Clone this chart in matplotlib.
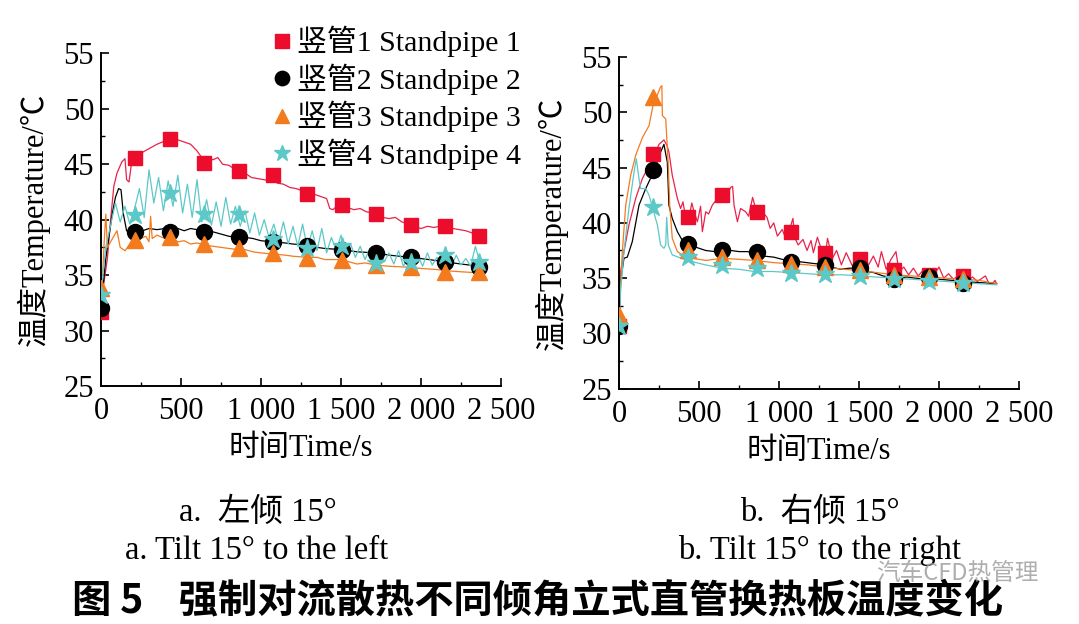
import matplotlib
matplotlib.use("Agg")
import matplotlib.pyplot as plt
from matplotlib.lines import Line2D
from matplotlib.ticker import MultipleLocator, FixedLocator

plt.rcParams['font.family'] = ['Liberation Serif', 'Noto Sans CJK SC', 'DejaVu Sans']
plt.rcParams['mathtext.fontset'] = 'stix'

# ---------------- data: left panel (a. tilt 15° to the left) ----------------
a_red_t = [0, 10, 25, 40, 60, 80, 100, 130, 150, 160, 175, 190, 215, 250, 300, 350, 400, 440,
           480, 520, 560, 600, 630, 650, 680, 700, 730, 760, 800, 830, 860, 900, 940, 980,
           1020, 1050, 1075, 1100, 1140, 1180, 1220, 1260, 1290, 1330, 1370, 1410, 1430,
           1450, 1480, 1505, 1540, 1580, 1620, 1660, 1700, 1720, 1760, 1800, 1840, 1880,
           1920, 1960, 2000, 2040, 2080, 2120, 2160, 2200, 2240, 2280, 2320, 2360, 2400]
a_red_v = [31.7, 33.5, 35.0, 36.5, 40.0, 43.0, 44.2, 45.2, 45.5, 43.6, 43.4, 45.0, 45.6, 46.0,
           46.4, 46.8, 47.1, 47.3, 47.2, 47.0, 46.8, 46.2, 45.6, 45.1, 45.5, 45.4, 45.6,
           45.0, 44.9, 44.6, 44.4, 44.2, 43.8, 43.7, 43.6, 43.5, 44.0, 43.3, 43.2, 42.9,
           42.8, 42.6, 42.3, 42.3, 42.1, 41.9, 41.0, 40.9, 41.3, 41.3, 41.1, 40.9, 41.0,
           40.7, 40.6, 40.5, 40.2, 40.1, 40.2, 39.8, 39.6, 39.4, 39.2, 39.4, 39.3, 39.4,
           39.4, 39.2, 39.1, 39.0, 38.8, 38.5, 38.5]

a_blk_t = [0, 10, 30, 50, 70, 90, 110, 125, 140, 160, 180, 215, 260, 300, 350, 400, 440, 480,
           520, 560, 600, 650, 700, 750, 800, 860, 900, 950, 1000, 1075, 1150, 1200, 1290,
           1350, 1400, 1505, 1600, 1720, 1800, 1935, 2050, 2150, 2250, 2365, 2400]
a_blk_v = [32.0, 33.5, 36.5, 38.5, 40.5, 42.0, 42.8, 42.7, 40.5, 39.0, 38.8, 38.85, 39.0,
           39.2, 39.1, 39.2, 39.0, 39.2, 39.0, 39.2, 39.1, 38.9, 38.9, 38.7, 38.5, 38.4,
           38.4, 38.3, 38.1, 38.0, 37.9, 37.8, 37.7, 37.5, 37.4, 37.3, 37.1, 37.0, 36.8,
           36.6, 36.4, 36.2, 36.0, 35.8, 35.8]

a_org_t = [0, 10, 20, 30, 40, 60, 80, 100, 120, 150, 180, 215, 250, 280, 300, 310, 320, 350,
           400, 440, 480, 520, 560, 600, 650, 700, 750, 800, 860, 900, 950, 1000, 1075,
           1150, 1200, 1290, 1350, 1400, 1505, 1550, 1600, 1650, 1720, 1800, 1935, 2000,
           2100, 2150, 2250, 2365, 2400]
a_org_v = [33.8, 35.0, 38.0, 40.5, 37.5, 38.0, 38.5, 39.0, 37.5, 37.2, 37.8, 38.0, 38.3,
           38.5, 38.0, 40.3, 38.3, 38.6, 38.3, 38.4, 38.0, 38.1, 37.8, 37.9, 37.7, 37.6,
           37.5, 37.4, 37.3, 37.3, 37.1, 37.0, 36.9, 36.8, 36.7, 36.6, 36.6, 36.4, 36.4,
           36.2, 36.0, 36.1, 35.9, 35.8, 35.7, 35.6, 35.5, 35.4, 35.3, 35.2, 35.3]

a_cyn_t = [0, 15, 30, 60, 90, 120, 150, 180, 210, 240, 270, 300, 330, 360, 390, 420, 450,
           480, 510, 540, 570, 600, 630, 660, 690, 720, 750, 780, 810, 840, 870, 900, 930,
           960, 990, 1020, 1050, 1080, 1110, 1140, 1170, 1200, 1230, 1260, 1290, 1320,
           1350, 1380, 1410, 1440, 1470, 1500, 1530, 1560, 1590, 1620, 1650, 1680, 1710,
           1740, 1770, 1800, 1830, 1860, 1890, 1920, 1950, 1980, 2010, 2040, 2070, 2100,
           2130, 2160, 2190, 2220, 2250, 2280, 2310, 2340, 2370, 2400]
a_cyn_v = [33.2, 35.5, 37.5, 39.5, 41.5, 39.8, 41.2, 39.6, 41.0, 42.8, 40.2, 44.5, 41.5,
           43.8, 40.8, 43.5, 41.2, 44.0, 40.6, 43.2, 40.2, 43.6, 39.8, 41.8, 39.5, 41.6,
           39.4, 42.0, 39.6, 41.2, 39.4, 40.8, 38.8, 40.6, 38.6, 40.0, 38.4, 39.6, 38.0,
           39.8, 37.8, 39.4, 37.6, 39.6, 37.4, 39.0, 37.2, 39.2, 37.0, 38.4, 37.2, 38.6,
           37.0, 37.8, 36.6, 37.6, 36.4, 37.4, 36.0, 37.2, 36.2, 37.0, 36.0, 37.2, 35.8,
           36.6, 35.8, 36.8, 35.8, 37.0, 35.9, 36.6, 35.8, 37.0, 35.8, 36.8, 35.9, 36.5,
           35.8, 37.6, 36.0, 36.4]

a_mk_t = [0, 215, 430, 645, 860, 1075, 1290, 1505, 1720, 1935, 2150, 2365]
a_red_mk = [31.7, 45.6, 47.3, 45.1, 44.4, 44.0, 42.3, 41.3, 40.5, 39.5, 39.4, 38.5]
a_blk_mk = [32.0, 38.85, 38.9, 38.85, 38.4, 38.0, 37.6, 37.3, 37.0, 36.6, 36.2, 35.7]
a_org_mk = [33.8, 38.2, 38.4, 37.8, 37.4, 37.0, 36.5, 36.4, 35.9, 35.7, 35.3, 35.25]
a_cyn_mk = [33.2, 40.4, 42.4, 40.5, 40.5, 38.3, 37.4, 37.6, 36.1, 36.2, 36.8, 36.2]

# ---------------- data: right panel (b. tilt 15° to the right) ----------------
b_red_t = [0, 10, 31, 62, 104, 146, 188, 219, 250, 281, 300, 312, 333, 365, 385, 400, 417,
           437, 455, 469, 490, 510, 521, 542, 560, 583, 615, 640, 656, 680, 698, 710, 719,
           740, 760, 792, 810, 835, 860, 890, 925, 945, 967, 990, 1020, 1045, 1062, 1087,
           1100, 1120, 1150, 1175, 1200, 1215, 1240, 1271, 1290, 1303, 1334, 1360, 1390,
           1420, 1459, 1490, 1525, 1560, 1590, 1620, 1640, 1670, 1700, 1731, 1750, 1780,
           1810, 1840, 1870, 1900, 1930, 1960, 2000, 2030, 2060, 2090, 2120, 2150, 2180,
           2210, 2240, 2270, 2290, 2310, 2335, 2350, 2360]
b_red_v = [30.7, 35.6, 37.4, 39.8, 42.2, 44.0, 45.2, 46.0, 47.1, 47.5, 47.0, 46.4, 44.3,
           42.2, 41.3, 41.9, 40.4, 40.4, 41.8, 41.0, 40.1, 41.5, 39.2, 41.0, 40.8, 41.6,
           42.2, 42.6, 42.6, 42.7, 43.2, 43.3, 41.6, 40.1, 41.3, 41.0, 40.6, 42.3, 41.0,
           41.1, 40.5, 39.5, 40.0, 38.8, 39.4, 38.5, 39.2, 40.4, 38.6, 38.0, 38.5, 37.5,
           38.4, 37.3, 38.7, 37.3, 37.0, 38.6, 36.8, 37.5, 36.2, 37.3, 36.1, 36.9, 36.8,
           36.2, 37.0, 36.0, 37.4, 35.8, 36.7, 37.4, 35.6, 36.0, 35.3, 35.9, 35.2, 35.7,
           35.4, 35.1, 36.0, 35.0, 35.4, 34.9, 35.2, 35.3, 34.8, 35.1, 34.7, 35.0, 35.2,
           34.6, 34.5, 34.8, 34.5]

b_blk_t = [0, 10, 31, 52, 83, 125, 167, 219, 260, 281, 295, 302, 312, 333, 365, 396, 430,
           480, 542, 600, 646, 700, 750, 800, 850, 900, 967, 1020, 1069, 1120, 1175, 1230,
           1283, 1330, 1384, 1440, 1498, 1550, 1592, 1650, 1717, 1800, 1850, 1935, 2000,
           2080, 2150, 2250, 2360]
b_blk_v = [30.7, 34.7, 36.8, 36.9, 38.3, 41.6, 43.1, 44.7, 46.4, 47.1, 46.0, 45.5, 41.6,
           40.4, 39.2, 38.4, 38.0, 37.8, 37.5, 37.4, 37.3, 37.5, 37.4, 37.4, 37.3, 37.0,
           36.9, 36.7, 36.6, 36.5, 36.4, 36.3, 36.3, 36.0, 35.8, 35.9, 35.9, 35.6, 35.5,
           35.2, 35.0, 35.1, 35.0, 34.9, 34.9, 34.8, 34.7, 34.6, 34.5]

b_org_t = [0, 21, 42, 73, 104, 146, 188, 215, 229, 260, 268, 271, 292, 308, 317, 333, 365,
           417, 542, 645, 750, 854, 967, 1075, 1180, 1290, 1400, 1505, 1610, 1720, 1830,
           1935, 2040, 2150, 2250, 2360]
b_org_v = [31.7, 37.4, 41.6, 44.3, 46.1, 47.7, 48.8, 50.8, 51.2, 52.3, 52.4, 49.7, 49.4,
           45.2, 41.6, 38.6, 37.4, 36.9, 36.6, 36.8, 36.7, 36.6, 36.4, 36.3, 36.2, 36.0,
           35.8, 35.7, 35.5, 35.3, 35.2, 35.1, 35.0, 34.9, 34.8, 34.5]

b_cyn_t = [0, 10, 31, 62, 94, 108, 125, 135, 167, 188, 215, 240, 260, 281, 292, 298, 308,
           333, 427, 540, 646, 750, 844, 960, 1075, 1180, 1290, 1400, 1505, 1610, 1720,
           1830, 1935, 2040, 2150, 2250, 2360]
b_cyn_v = [30.7, 33.8, 37.4, 41.3, 44.6, 45.8, 44.0, 43.1, 43.1, 42.5, 41.1, 39.8, 38.0,
           37.7, 38.0, 40.5, 38.0, 37.1, 36.6, 36.2, 35.9, 35.8, 35.6, 35.6, 35.5, 35.4,
           35.3, 35.3, 35.2, 35.1, 35.0, 34.9, 34.8, 34.7, 34.6, 34.5, 34.4]

b_mk_t = [0, 215, 430, 645, 860, 1075, 1290, 1505, 1720, 1935, 2150]
b_red_mk = [30.7, 46.2, 40.5, 42.5, 41.0, 39.2, 37.3, 36.7, 35.7, 35.3, 35.2]
b_blk_mk = [30.7, 44.8, 38.1, 37.5, 37.4, 36.5, 36.2, 35.9, 34.9, 35.1, 34.6]
b_org_mk = [31.7, 51.4, 37.5, 36.9, 36.6, 36.3, 36.0, 35.7, 35.3, 35.1, 34.9]
b_cyn_mk = [30.7, 41.4, 36.9, 36.2, 35.9, 35.5, 35.4, 35.2, 34.9, 34.7, 34.6]

x_ticks = [0, 500, 1000, 1500, 2000, 2500]
x_tick_labels = ['0', '500', '1 000', '1 500', '2 000', '2 500']
y_ticks = [25, 30, 35, 40, 45, 50, 55]

legend_labels = ['竖管1 Standpipe 1', '竖管2 Standpipe 2', '竖管3 Standpipe 3', '竖管4 Standpipe 4']

# ---------------- styles ----------------
RED_L, RED_M = '#e8224a', '#ec0c2c'
BLK = '#000000'
ORG = '#f47a1e'
CYN = '#5cc8c8'
styles = [
    dict(lc=RED_L, mc=RED_M, m='s', ms=10.5),
    dict(lc=BLK, mc=BLK, m='o', ms=11.5),
    dict(lc=ORG, mc=ORG, m='^', ms=11.5),
    dict(lc=CYN, mc=CYN, m='*', ms=13.5),
]

FS = 22

fig = plt.figure(figsize=(10.79, 6.24), dpi=100)
axA = fig.add_axes([101/1079, 1-386/624, 400/1079, 332.7/624])
axB = fig.add_axes([619/1079, 1-388.7/624, 400/1079, 331.7/624])


def draw(ax, lines, mk_t, mks):
    for (t, v), mv, st in zip(lines, mks, styles):
        ax.plot(t, v, color=st['lc'], lw=0.9, zorder=2)
    for (t, v), mv, st in zip(lines, mks, styles):
        ax.plot(mk_t, mv, linestyle='none', marker=st['m'], ms=st['ms'],
                color=st['mc'], mec=st['mc'], zorder=3)
    ax.set_xlim(0, 2500)
    ax.set_ylim(25, 55)
    ax.spines['top'].set_visible(False)
    ax.spines['right'].set_visible(False)
    for s in ('left', 'bottom'):
        ax.spines[s].set_linewidth(1.4)
    ax.xaxis.set_major_locator(FixedLocator(x_ticks))
    ax.set_xticklabels(x_tick_labels)
    ax.xaxis.set_minor_locator(MultipleLocator(250))
    ax.yaxis.set_major_locator(FixedLocator(y_ticks))
    ax.yaxis.set_minor_locator(MultipleLocator(2.5))
    ax.tick_params(which='major', direction='in', length=6, width=1.2, labelsize=FS, pad=5)
    ax.tick_params(axis='x', which='major', pad=8)
    ax.tick_params(which='minor', direction='in', length=3, width=1.0)
    ax.set_xlabel('时间Time/s', fontsize=FS, labelpad=6)
    ax.set_ylabel('温度Temperature/℃', fontsize=FS, labelpad=10)


draw(axA, [(a_red_t, a_red_v), (a_blk_t, a_blk_v), (a_org_t, a_org_v), (a_cyn_t, a_cyn_v)],
     a_mk_t, [a_red_mk, a_blk_mk, a_org_mk, a_cyn_mk])
draw(axB, [(b_red_t, b_red_v), (b_blk_t, b_blk_v), (b_org_t, b_org_v), (b_cyn_t, b_cyn_v)],
     b_mk_t, [b_red_mk, b_blk_mk, b_org_mk, b_cyn_mk])

handles = [Line2D([], [], linestyle='none', marker=st['m'], ms=st['ms'] * 0.9,
                  color=st['mc']) for st in styles]
fig.legend(handles, legend_labels, loc='upper left', bbox_to_anchor=(273/1079, 1-26/624),
           frameon=False, fontsize=21.5, handlelength=0.6, handletextpad=0.2,
           labelspacing=0.2, borderpad=0, borderaxespad=0)

cap_fs = 23.5
fig.text(258/1079, 1-513/624, 'a.  左倾 15°', ha='center', va='center', fontsize=cap_fs)
fig.text(257/1079, 1-551/624, 'a. Tilt 15° to the left', ha='center', va='center', fontsize=cap_fs)
fig.text(820/1079, 1-513/624, 'b.  右倾 15°', ha='center', va='center', fontsize=cap_fs)
fig.text(820/1079, 1-551/624, 'b. Tilt 15° to the right', ha='center', va='center', fontsize=cap_fs)
fig.text(538/1079, 1-601/624, '图 5    强制对流散热不同倾角立式直管换热板温度变化',
         ha='center', va='center', fontsize=28.3, fontweight='bold',
         family=['Noto Sans CJK SC', 'DejaVu Sans'])
fig.text(957/1079, 1-573/624, '汽车CFD热管理', ha='center', va='center', fontsize=17,
         color='#9a9a9a', alpha=0.8, family=['Noto Sans CJK SC', 'DejaVu Sans'])

fig.savefig('out.png', dpi=100)
